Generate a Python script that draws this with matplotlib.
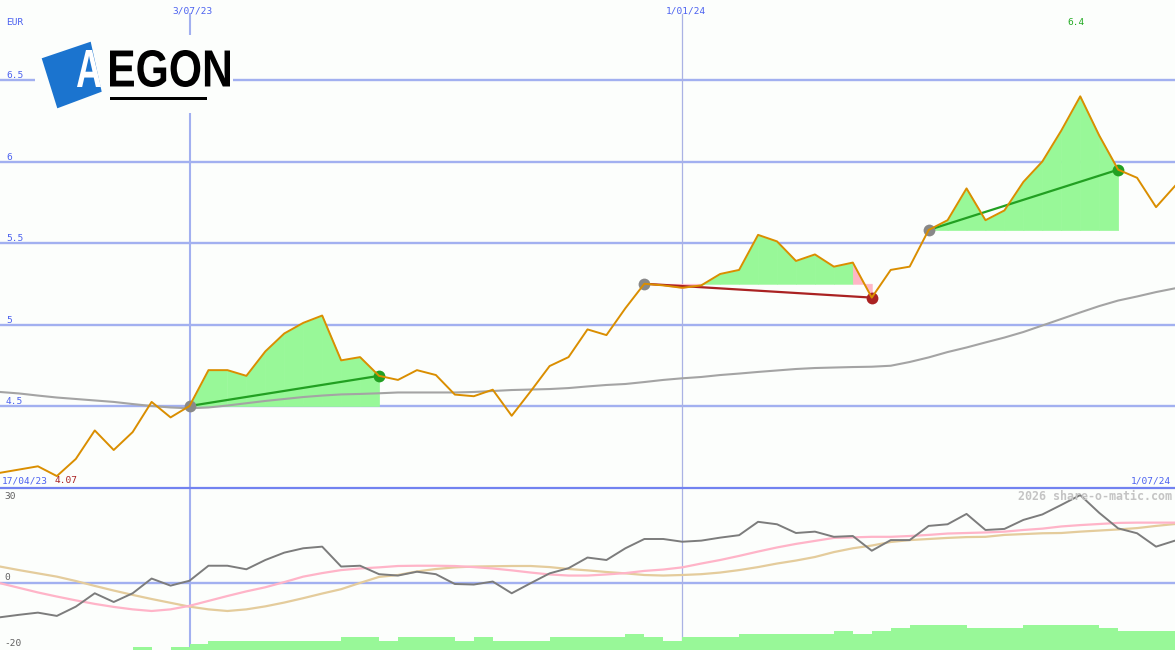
import matplotlib
matplotlib.use("Agg")
import matplotlib.pyplot as plt
import matplotlib.dates as mdates
import numpy as np
import pandas as pd
from matplotlib.textpath import TextPath
from matplotlib.patches import PathPatch, Polygon, Rectangle
from matplotlib.font_manager import FontProperties
from matplotlib.transforms import Affine2D

# weekly closes, AEGON (EUR)
dates = pd.date_range("2023-04-24", periods=63, freq="7D")
price = [4.09, 4.11, 4.13, 4.07, 4.175, 4.35, 4.23, 4.34, 4.525, 4.43,
         4.50, 4.72, 4.72, 4.685, 4.835, 4.945, 5.01, 5.055, 4.78, 4.80,
         4.685, 4.66, 4.72, 4.69, 4.57, 4.56, 4.60, 4.44, 4.59, 4.745,
         4.80, 4.97, 4.935, 5.10, 5.25, 5.24, 5.225, 5.24, 5.31, 5.335,
         5.55, 5.51, 5.39, 5.43, 5.355, 5.38, 5.165, 5.335, 5.355, 5.58,
         5.64, 5.835, 5.64, 5.70, 5.875, 6.00, 6.19, 6.40, 6.16, 5.95,
         5.90, 5.72, 5.85]
ma_long = [4.586, 4.577, 4.564, 4.552, 4.543, 4.534, 4.525, 4.512, 4.500, 4.491,
           4.486, 4.491, 4.503, 4.517, 4.531, 4.543, 4.555, 4.564, 4.571, 4.574,
           4.578, 4.583, 4.583, 4.583, 4.583, 4.586, 4.592, 4.598, 4.601, 4.604,
           4.610, 4.620, 4.629, 4.635, 4.647, 4.660, 4.670, 4.678, 4.690, 4.699,
           4.709, 4.718, 4.727, 4.733, 4.736, 4.739, 4.741, 4.747, 4.770, 4.798,
           4.831, 4.859, 4.890, 4.920, 4.954, 4.994, 5.034, 5.074, 5.113, 5.147,
           5.172, 5.199, 5.222]

# lower panel: oscillator and its two averages
osc = [-12.4, -11.5, -10.7, -11.9, -8.5, -3.6, -6.8, -3.6, 1.8, -0.8,
       1.0, 6.5, 6.5, 5.2, 8.6, 11.3, 12.9, 13.5, 6.2, 6.5,
       3.4, 2.9, 4.3, 3.4, -0.2, -0.4, 0.7, -3.6, 0.1, 3.7,
       5.6, 9.5, 8.6, 12.9, 16.3, 16.3, 15.3, 15.7, 16.8, 17.7,
       22.6, 21.7, 18.5, 19.0, 17.1, 17.4, 12.0, 15.9, 15.9, 21.1,
       21.7, 25.5, 19.6, 20.0, 23.3, 25.3, 28.8, 32.4, 25.9, 20.2,
       18.4, 13.5, 15.7]
osc_pink = [0.1, -1.6, -3.3, -4.8, -6.2, -7.5, -8.6, -9.5, -10.1, -9.5,
            -8.2, -6.4, -4.6, -2.9, -1.4, 0.5, 2.5, 3.8, 4.9, 5.5,
            5.9, 6.4, 6.5, 6.5, 6.4, 6.0, 5.5, 4.8, 4.0, 3.3,
            2.9, 2.9, 3.3, 3.8, 4.6, 5.1, 5.9, 7.3, 8.6, 10.1,
            11.7, 13.2, 14.5, 15.6, 16.7, 16.9, 17.1, 17.1, 17.4, 17.8,
            18.3, 18.5, 18.7, 19.0, 19.6, 20.1, 20.9, 21.4, 21.8, 22.2,
            22.3, 22.3, 22.3]
osc_tan = [6.2, 4.9, 3.7, 2.5, 0.9, -0.9, -2.6, -4.2, -5.7, -7.1,
           -8.5, -9.5, -10.1, -9.5, -8.4, -7.0, -5.4, -3.7, -2.1, 0.2,
           2.4, 3.1, 4.4, 5.3, 5.9, 6.2, 6.3, 6.4, 6.4, 6.0,
           5.3, 4.8, 4.2, 3.7, 3.1, 2.9, 3.1, 3.4, 4.0, 4.9,
           6.0, 7.3, 8.4, 9.7, 11.5, 12.9, 13.9, 15.2, 15.9, 16.3,
           16.7, 17.0, 17.1, 17.8, 18.1, 18.4, 18.5, 19.0, 19.4, 19.8,
           20.3, 21.1, 21.8]
volume = [0, 0, 0, 0, 0, 0, 0, 1, 0, 1,
          2, 3, 3, 3, 3, 3, 3, 3, 4, 4,
          3, 4, 4, 4, 3, 4, 3, 3, 3, 4,
          4, 4, 4, 5, 4, 3, 4, 4, 4, 5,
          5, 5, 5, 5, 6, 5, 6, 7, 8, 8,
          8, 7, 7, 7, 8, 8, 8, 8, 7, 6,
          6, 6]

trade_in = [10, 34, 49]
trade_out = [20, 46, 59]
price_ticks = [4.5, 5, 5.5, 6, 6.5]
osc_ticks = [30, 0, -20]

BG = "#fcfefc"
GRID = "#a2b0f0"
BLUE_TXT = "#4c62f0"
ORANGE = "#da8e00"
FILL_G = "#98f898"
FILL_R = "#ffb6c6"
DK_G = "#22a022"
DK_R = "#aa2222"
MONO = "DejaVu Sans Mono"

x = mdates.date2num(dates)
price = np.array(price)

fig = plt.figure(figsize=(11.75, 6.5), dpi=100)
fig.patch.set_facecolor(BG)
ax = fig.add_axes([0, 163 / 650, 1, 487 / 650])
ax2 = fig.add_axes([0, 0, 1, 162 / 650])
for a in (ax, ax2):
    a.set_xlim(x[0], x[-1])
    a.set_facecolor(BG)
    a.set_xticks([])
    a.set_yticks([])
    for s in a.spines.values():
        s.set_visible(False)
ax2.spines["top"].set_visible(True)
ax2.spines["top"].set_color("#7282f0")
ax2.spines["top"].set_linewidth(1.6)
ax.set_ylim(4.003, 6.991)
ax2.set_ylim(-24.4, 35.0)

# grid
for t in price_ticks:
    ax.axhline(t, color=GRID, lw=1.7, zorder=1)
    ax.annotate("%g" % t, xy=(0, t), xycoords=("axes fraction", "data"),
                xytext=(6, 2), textcoords="offset pixels", va="baseline",
                color=BLUE_TXT, fontsize=6.8, family=MONO)
ax2.axhline(0, color=GRID, lw=1.7, zorder=1)
ax.axvline(x[10], ymax=0.971, color=GRID, lw=1.5, zorder=1)
ax2.axvline(x[10], color=GRID, lw=1.5, zorder=1)
ax.axvline(x[36], ymax=0.971, color="#aab2e4", lw=0.9, zorder=1)
ax2.axvline(x[36], color="#aab2e4", lw=0.9, zorder=1)

# trades
for i0, i1 in zip(trade_in, trade_out):
    level = price[i0]
    for k in range(i0, i1):
        col = FILL_G if price[k + 1] >= level else FILL_R
        ax.fill_between(x[k:k + 2], level, price[k:k + 2], facecolor=col,
                        edgecolor=col, lw=0.5, zorder=2)
    lc = DK_G if price[i1] >= level else DK_R
    ax.plot([x[i0], x[i1]], [price[i0], price[i1]], color=lc, lw=1.6, zorder=4)
    ax.plot(x[i0], price[i0], "o", color="#888888", ms=8.5, mew=0, zorder=5)
    ax.plot(x[i1], price[i1], "o", color=lc, ms=8.5, mew=0, zorder=5)

ax.plot(x, ma_long, color="#a4a4a4", lw=1.5, zorder=3)
ax.plot(x, price, color=ORANGE, lw=1.4, zorder=6)

imax = int(np.argmax(price))
ax.annotate("%.1f" % price.max(), xy=(x[imax], 1), xycoords=("data", "axes fraction"),
            xytext=(-4, -25), textcoords="offset pixels", ha="center", va="baseline",
            color="#22aa22", fontsize=6.8, family=MONO)

# lower panel
axv = ax2.twinx()
axv.set_ylim(0, 51.4)
axv.bar(x[:-1], volume, width=np.diff(x), align="edge", color=FILL_G, lw=0, zorder=1)
axv.set_yticks([])
for s in axv.spines.values():
    s.set_visible(False)
ax2.plot(x, osc_tan, color="#e4cc9c", lw=1.6, zorder=3)
ax2.plot(x, osc_pink, color="#ffb4c8", lw=1.6, zorder=3)
ax2.plot(x, osc, color="#7c7c7c", lw=1.4, zorder=4)

# overlay in pixels for logo and labels
ov = fig.add_axes([0, 0, 1, 1], zorder=10)
ov.set_xlim(0, 1175)
ov.set_ylim(650, 0)
ov.axis("off")
ov.patch.set_alpha(0)

ov.add_patch(Rectangle((35, 35), 198, 78, facecolor=BG, lw=0))
ov.add_patch(Polygon([(41.7, 58.3), (90.7, 41.7), (101.7, 91.7), (57.3, 108.3)],
                     closed=True, facecolor="#1b74cf", lw=0))
fp = FontProperties(family="Liberation Sans", weight="bold")


def put_word(s, x0, x1, ytop, ybot, color):
    tp = TextPath((0, 0), s, size=10, prop=fp)
    ext = tp.get_extents()
    tr = Affine2D().translate(-ext.x0, -ext.y0).scale((x1 - x0) / ext.width,
                                                       -(ybot - ytop) / ext.height).translate(x0, ybot)
    ov.add_patch(PathPatch(tr.transform_path(tp), facecolor=color, lw=0))


put_word("A", 77, 101, 50, 87, "white")
put_word("EGON", 110, 230, 50, 87, "black")
ov.add_patch(Rectangle((110, 96.5), 97, 3, facecolor="black", lw=0))

small = dict(fontsize=6.8, family=MONO, va="baseline")
ov.text(6, 25, "EUR", color=BLUE_TXT, **small)
ov.text(193, 13, "3/07/23", color=BLUE_TXT, ha="center", **small)
ov.text(686, 13, "1/01/24", color=BLUE_TXT, ha="center", **small)
ov.text(2, 483, "17/04/23", color=BLUE_TXT, **small)
ov.text(55, 483, "%.2f" % price.min(), color=DK_R, **small)
ov.text(1171, 483, "1/07/24", color=BLUE_TXT, ha="right", **small)
ov.text(1172, 500, "2026 share-o-matic.com", color="#c4c4c4", ha="right",
        va="baseline", fontsize=8.4, family=MONO, weight="bold")
for t, yb in zip(osc_ticks, [499, 580, 646]):
    ov.text(4, yb, str(t), color="#606060", **small)

fig.savefig("out.png", dpi=100, facecolor=BG)
